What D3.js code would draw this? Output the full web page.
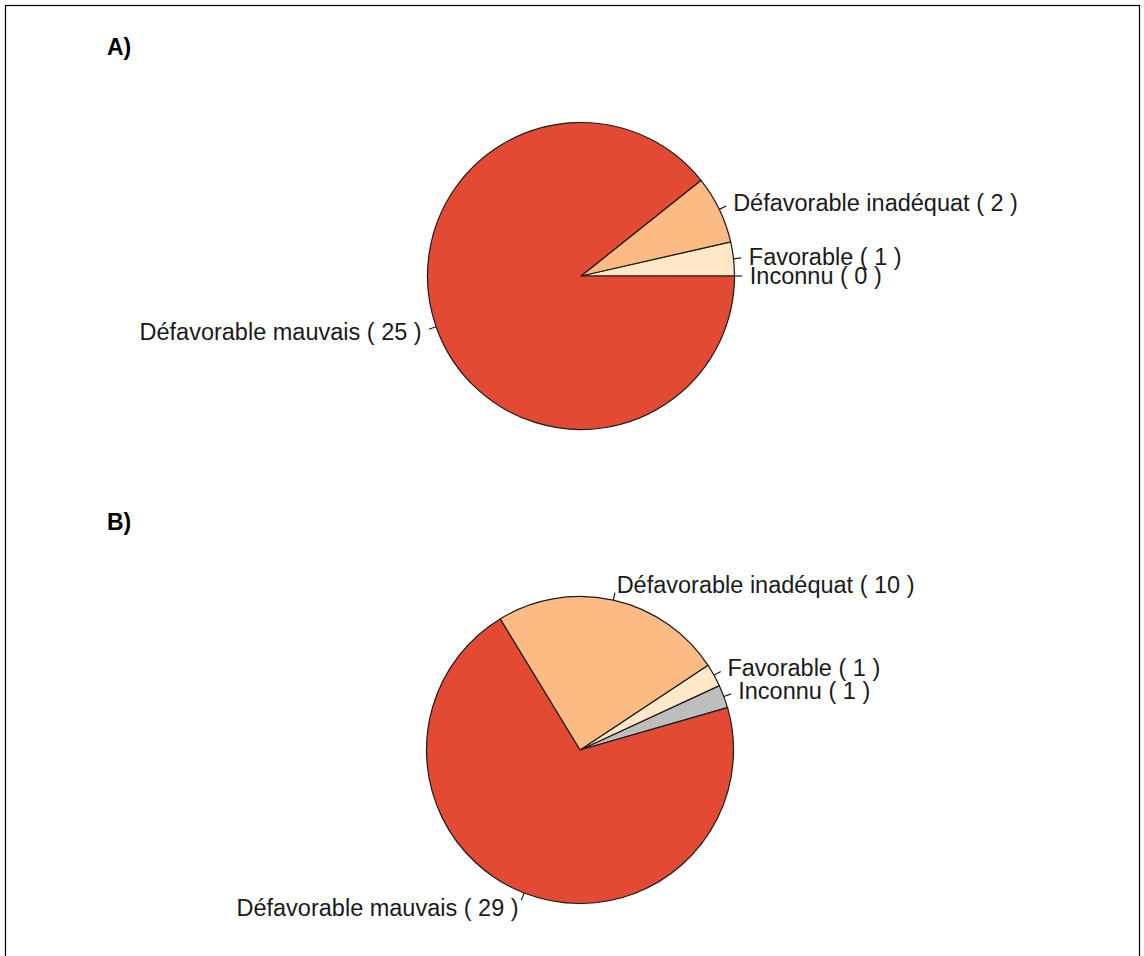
<!DOCTYPE html>
<html>
<head>
<meta charset="utf-8">
<script src="https://cdn.jsdelivr.net/npm/d3@7"></script>
<style>
  html, body { margin: 0; padding: 0; background: #fff; }
  svg { display: block; }
  text { font-family: "Liberation Sans", Arial, sans-serif; fill: #1a1a1a; }
</style>
</head>
<body>
<svg id="chart" width="1144" height="956"></svg>
<script>
// ---- data ----
const categories = ["Inconnu", "Favorable", "Défavorable inadéquat", "Défavorable mauvais"];
const valuesA = [0, 1, 2, 25];
const valuesB = [1, 1, 10, 29];
const panelTitles = ["A)", "B)"];
const sliceColors = ["#BEBEBE", "#FEE8C8", "#FDBB84", "#E34A33"];

// ---- layout ----
const svg = d3.select("#chart");

svg.append("rect")
  .attr("x", 5.5).attr("y", 5.5)
  .attr("width", 1134).attr("height", 1000)
  .attr("fill", "none").attr("stroke", "#000").attr("stroke-width", 1.2);

const panels = [
  { title: panelTitles[0], values: valuesA, cx: 581, cy: 276, titleY: 55, initDeg: 0 },
  { title: panelTitles[1], values: valuesB, cx: 580, cy: 750, titleY: 530, initDeg: 16 }
];

const R = 153.5;
const color = d3.scaleOrdinal().domain(categories).range(sliceColors);
const arc = d3.arc().innerRadius(0).outerRadius(R);

panels.forEach(p => {
  svg.append("text")
    .attr("x", 107).attr("y", p.titleY)
    .attr("font-size", 23).attr("font-weight", "bold")
    .style("fill", "#000")
    .text(p.title);

  const data = categories.map((c, i) => ({ cat: c, value: p.values[i] }));
  const a0 = Math.PI / 2 - p.initDeg * Math.PI / 180;
  // counterclockwise from 3 o'clock (R pie convention)
  const pie = d3.pie().sort(null).value(d => d.value)
    .startAngle(a0).endAngle(a0 - 2 * Math.PI);
  const arcs = pie(data);

  const g = svg.append("g").attr("transform", `translate(${p.cx},${p.cy})`);

  g.selectAll("path.slice").data(arcs.filter(d => d.value > 0)).join("path")
    .attr("class", "slice")
    .attr("d", arc)
    .attr("fill", d => color(d.data.cat))
    .attr("stroke", "#1a1a1a").attr("stroke-width", 1.2)
    .attr("stroke-linejoin", "round");

  arcs.forEach(d => {
    const m = (d.startAngle + d.endAngle) / 2;
    const ux = Math.sin(m), uy = -Math.cos(m);
    g.append("line")
      .attr("x1", ux * R).attr("y1", uy * R)
      .attr("x2", ux * R * 1.05).attr("y2", uy * R * 1.05)
      .attr("stroke", "#1a1a1a").attr("stroke-width", 1.2);
    g.append("text")
      .attr("x", ux * R * 1.1).attr("y", uy * R * 1.1)
      .attr("dy", "0.35em")
      .attr("font-size", 23.5)
      .attr("text-anchor", ux < -1e-9 ? "end" : "start")
      .text(`${d.data.cat} ( ${d.data.value} )`);
  });
});
</script>
</body>
</html>
